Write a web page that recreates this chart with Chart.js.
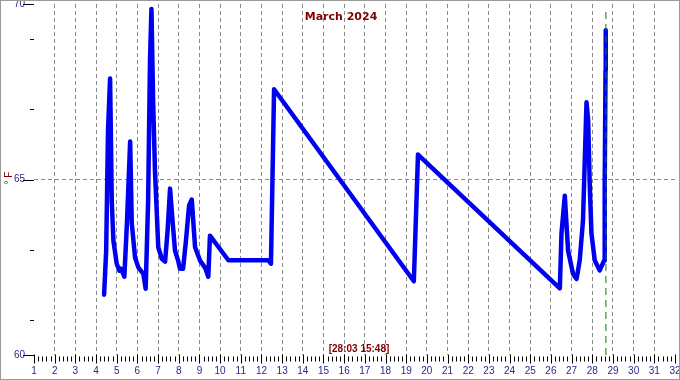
<!DOCTYPE html>
<html>
<head>
<meta charset="utf-8">
<script src="https://cdn.jsdelivr.net/npm/chart.js@4.4.1/dist/chart.umd.min.js"></script>
<style>
  html, body { margin: 0; padding: 0; background: #fff; }
  canvas { display: block; }
</style>
</head>
<body>
<canvas id="tempChart" width="680" height="380"></canvas>
<script>
// day of month (fractional) and temperature in °F
const days = [4.39, 4.49, 4.58, 4.68, 4.76, 4.84, 5.00, 5.13, 5.21, 5.37,
  5.50, 5.65, 5.73, 5.89, 6.05, 6.29, 6.40, 6.52, 6.61, 6.68,
  6.76, 6.85, 7.01, 7.18, 7.34, 7.46, 7.58, 7.68, 7.82, 7.97,
  8.06, 8.21, 8.35, 8.50, 8.63, 8.79, 9.03, 9.27, 9.43, 9.51,
  10.40, 12.33, 12.46, 12.61, 19.37, 19.57, 26.43, 26.51, 26.67, 26.83,
  27.07, 27.24, 27.39, 27.55, 27.72, 27.80, 27.88, 27.96, 28.12, 28.36,
  28.57, 28.60, 28.64, 28.65];
const temps = [61.72, 62.97, 66.4, 67.88, 64.4, 63.26, 62.6, 62.4, 62.46, 62.23,
  63.83, 66.08, 63.74, 62.77, 62.49, 62.31, 61.89, 64.4, 68.4, 69.86,
  67.26, 65.26, 63.07, 62.74, 62.66, 63.54, 64.74, 63.97, 62.97, 62.69,
  62.46, 62.46, 63.26, 64.26, 64.43, 63.07, 62.69, 62.49, 62.23, 63.4,
  62.7, 62.7, 62.6, 67.57, 62.1, 65.71, 61.9, 63.46, 64.54, 62.97,
  62.31, 62.17, 62.69, 63.83, 67.2, 66.69, 64.78, 63.46, 62.69, 62.41,
  62.69, 64.78, 68.11, 69.25];

const xTickDays = [1, 2, 3, 4, 5, 6, 7, 8, 9, 10, 11, 12, 13, 14, 15, 16,
  17, 18, 19, 20, 21, 22, 23, 24, 25, 26, 27, 28, 29, 30, 31, 32];
const yTickLabels = [60, 65, 70];
const yMinorTicks = [61, 63, 67, 69];

const markerDay = 28 + (15 + 48 / 60) / 24;
const markerTemps = [60, 69.8];

const DARK_RED = "#800000";
const TICK_BLUE = "#28288a";
const GRID_GRAY = "#8a8a8a";

const pageDecor = {
  id: "pageDecor",
  beforeDraw(chart) {
    const { ctx, width, height } = chart;
    ctx.save();
    ctx.fillStyle = "#fff";
    ctx.fillRect(0, 0, width, height);
    ctx.restore();
  },
  afterDraw(chart) {
    const { ctx, width, height, scales: { x, y } } = chart;
    ctx.save();

    // axis tick marks
    ctx.strokeStyle = "#000";
    ctx.lineWidth = 1;
    ctx.beginPath();
    const base = Math.round(y.getPixelForValue(60)) + 0.5;
    x.ticks.forEach((t, i) => {
      const px = Math.round(x.getPixelForValue(t.value)) + 0.5;
      ctx.moveTo(px, base - 1);
      ctx.lineTo(px, base + 8);
      if (i < x.ticks.length - 1) {
        for (let k = 1; k < 5; k++) {
          const mx = Math.round(x.getPixelForValue(t.value + k / 5)) + 0.5;
          ctx.moveTo(mx, base + 1);
          ctx.lineTo(mx, base + 6);
        }
      }
    });
    const left = chart.chartArea.left;
    y.ticks.forEach((t) => {
      const py = Math.round(y.getPixelForValue(t.value)) + 0.5;
      ctx.moveTo(left - 11, py);
      ctx.lineTo(left, py);
    });
    yMinorTicks.forEach((v) => {
      const py = Math.round(y.getPixelForValue(v)) + 0.5;
      ctx.moveTo(left - 4, py);
      ctx.lineTo(left, py);
    });
    ctx.stroke();

    // texts
    ctx.fillStyle = DARK_RED;
    ctx.textAlign = "center";
    ctx.textBaseline = "middle";
    ctx.font = "bold 11px 'DejaVu Sans'";
    ctx.fillText("March 2024", 341, 17);

    ctx.font = "bold 10px 'Liberation Sans'";
    ctx.fillText("[28:03 15:48]", 359, 349);

    ctx.save();
    ctx.translate(9, 178);
    ctx.rotate(-Math.PI / 2);
    ctx.font = "10px 'Liberation Sans'";
    ctx.fillText("° F", 0, 0);
    ctx.restore();

    // frame
    ctx.strokeStyle = "#9a9a9a";
    ctx.lineWidth = 1;
    ctx.strokeRect(0.5, 0.5, width - 1, height - 1);
    ctx.restore();
  }
};

new Chart(document.getElementById("tempChart"), {
  type: "line",
  data: {
    datasets: [
      {
        data: markerTemps.map((v) => ({ x: markerDay, y: v })),
        borderColor: "#008000",
        borderWidth: 1,
        borderDash: [7, 5],
        pointRadius: 0
      },
      {
        data: days.map((d, i) => ({ x: d, y: temps[i] })),
        borderColor: "#0000f0",
        borderWidth: 4.5,
        borderJoinStyle: "round",
        borderCapStyle: "round",
        tension: 0,
        pointRadius: 0,
        clip: false
      }
    ]
  },
  options: {
    responsive: false,
    animation: false,
    devicePixelRatio: 1,
    layout: { padding: { top: 4, right: 5, left: 0, bottom: 0 } },
    plugins: {
      legend: { display: false },
      tooltip: { enabled: false }
    },
    scales: {
      x: {
        type: "linear",
        min: 1,
        max: 32,
        afterBuildTicks(scale) {
          scale.ticks = xTickDays.map((v) => ({ value: v }));
        },
        afterFit(scale) {
          scale.height = 25;
          scale.paddingLeft = 0;
          scale.paddingRight = 0;
        },
        ticks: {
          autoSkip: false,
          maxRotation: 0,
          padding: 10,
          color: TICK_BLUE,
          font: { family: "'Liberation Sans'", size: 10 }
        },
        grid: {
          drawTicks: false,
          lineWidth: 1,
          color: (c) => (c.tick && c.tick.value > 1 && c.tick.value < 32 ? GRID_GRAY : "rgba(0,0,0,0)")
        },
        border: { display: false, dash: [4, 3] }
      },
      y: {
        min: 60,
        max: 70,
        afterBuildTicks(scale) {
          scale.ticks = yTickLabels.map((v) => ({ value: v }));
        },
        afterFit(scale) {
          scale.width = 34;
          scale.paddingTop = 0;
          scale.paddingBottom = 0;
        },
        ticks: {
          padding: 9,
          color: TICK_BLUE,
          font: { family: "'Liberation Sans'", size: 10 }
        },
        grid: {
          drawTicks: false,
          lineWidth: 1,
          color: (c) => (c.tick && c.tick.value === 65 ? GRID_GRAY : "rgba(0,0,0,0)")
        },
        border: { display: false, dash: [4, 3] }
      }
    }
  },
  plugins: [pageDecor]
});
</script>
</body>
</html>
